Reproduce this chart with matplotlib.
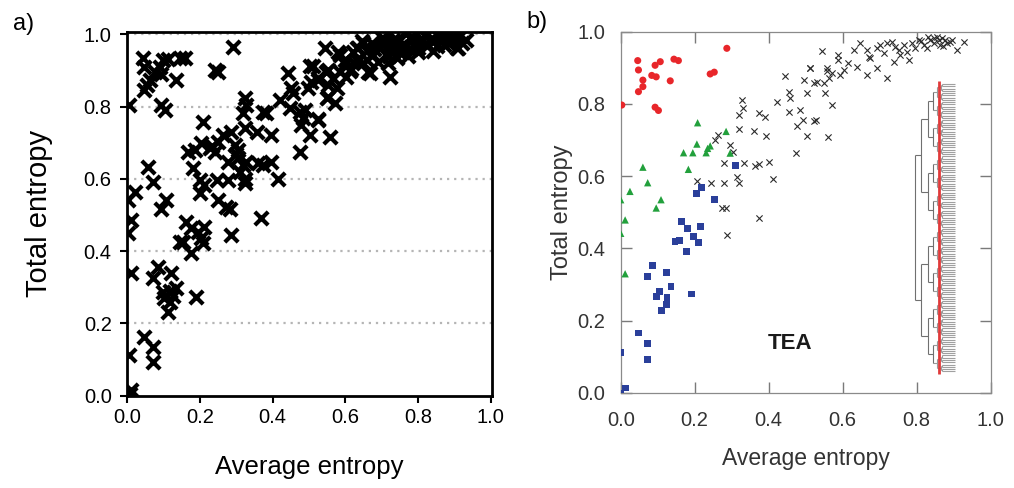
import numpy as np
import matplotlib
matplotlib.use("Agg")
import matplotlib.pyplot as plt

plt.rcParams['font.family'] = ['Liberation Sans', 'DejaVu Sans']

# ---------------- Panel a data ----------------
a_x = [0.044, 0.048, 0.062, 0.048, 0.076, 0.090, 0.094, 0.099, 0.113, 0.145, 0.159, 0.136, 0.055, 0.291, 0.241,
       0.250, 0.094, 0.104, 0.005, 0.209,
       0.168, 0.186, 0.204, 0.227, 0.241, 0.250, 0.264, 0.287, 0.324, 0.296, 0.305, 0.278, 0.305, 0.319, 0.328,
       0.310, 0.324, 0.324, 0.356, 0.383, 0.374, 0.397, 0.324, 0.328, 0.319, 0.360, 0.374, 0.397, 0.415, 0.181,
       0.200, 0.213, 0.200, 0.246, 0.278, 0.250, 0.273, 0.282, 0.287, 0.369, 0.234, 0.300,
       0.420, 0.443, 0.452, 0.457, 0.447, 0.475, 0.484, 0.479, 0.502, 0.525, 0.557, 0.475, 0.502, 0.507, 0.498,
       0.525, 0.543, 0.548, 0.553, 0.571, 0.576, 0.580, 0.585, 0.603, 0.617, 0.621, 0.635, 0.649, 0.663, 0.676,
       0.690, 0.704, 0.713, 0.722, 0.741, 0.759, 0.773, 0.786, 0.805, 0.823, 0.841, 0.860, 0.883, 0.910, 0.933,
       0.897, 0.777, 0.731, 0.695,
       0.512, 0.526, 0.553, 0.553, 0.567, 0.549, 0.585, 0.599, 0.613, 0.631, 0.645, 0.636, 0.659, 0.672, 0.668,
       0.709, 0.718, 0.727, 0.741, 0.750, 0.764, 0.787, 0.800, 0.814, 0.828, 0.837, 0.851, 0.869, 0.896, 0.906,
       0.915, 0.526, 0.489, 0.768, 0.860, 0.820, 0.700, 0.660, 0.620, 0.750, 0.800, 0.870, 0.840, 0.780, 0.880,
       0.920, 0.720, 0.680, 0.650, 0.600,
       0.021, 0.003, 0.011, 0.003, 0.058, 0.071, 0.108, 0.094, 0.163, 0.177, 0.195, 0.213, 0.204, 0.209, 0.145,
       0.154, 0.177, 0.012, 0.085, 0.071, 0.122, 0.136, 0.099, 0.117, 0.103, 0.117, 0.113, 0.126, 0.191, 0.048,
       0.071, 0.071, 0.005, 0.012, 0.007]
a_y = [0.934, 0.910, 0.873, 0.846, 0.895, 0.910, 0.890, 0.929, 0.933, 0.935, 0.934, 0.874, 0.860, 0.966, 0.901,
       0.897, 0.804, 0.790, 0.804, 0.758,
       0.675, 0.680, 0.698, 0.685, 0.675, 0.703, 0.721, 0.731, 0.740, 0.694, 0.680, 0.648, 0.657, 0.638, 0.648,
       0.620, 0.601, 0.588, 0.731, 0.781, 0.785, 0.721, 0.823, 0.804, 0.781, 0.643, 0.638, 0.648, 0.601, 0.629,
       0.597, 0.583, 0.560, 0.597, 0.597, 0.541, 0.523, 0.518, 0.445, 0.491, 0.690, 0.668,
       0.818, 0.892, 0.851, 0.837, 0.795, 0.786, 0.768, 0.749, 0.721, 0.763, 0.717, 0.675, 0.911, 0.869, 0.851,
       0.874, 0.961, 0.897, 0.827, 0.809, 0.851, 0.952, 0.897, 0.883, 0.905, 0.923, 0.961, 0.975, 0.897, 0.943,
       0.923, 0.970, 0.943, 0.883, 0.934, 0.952, 0.940, 0.970, 0.984, 0.970, 0.980, 0.989, 0.975, 0.961, 0.984,
       0.994, 0.989, 0.984, 0.961,
       0.911, 0.879, 0.900, 0.860, 0.879, 0.825, 0.944, 0.917, 0.898, 0.962, 0.981, 0.925, 0.953, 0.976, 0.894,
       0.985, 0.920, 0.958, 0.985, 0.948, 0.971, 0.990, 0.962, 0.985, 0.971, 0.990, 0.967, 0.985, 0.990, 0.962,
       0.994, 0.767, 0.790, 1.000, 1.000, 0.995, 0.990, 0.930, 0.950, 0.965, 0.950, 0.970, 0.955, 0.960, 0.995,
       0.975, 0.940, 0.960, 0.920, 0.930,
       0.565, 0.541, 0.486, 0.449, 0.634, 0.592, 0.541, 0.518, 0.482, 0.463, 0.454, 0.468, 0.435, 0.422, 0.426,
       0.426, 0.394, 0.339, 0.357, 0.325, 0.339, 0.297, 0.288, 0.290, 0.269, 0.260, 0.232, 0.275, 0.274, 0.163,
       0.136, 0.094, 0.113, 0.016, 0.006]

# ---------------- Panel b data ----------------
red_x = [0.003, 0.046, 0.048, 0.060, 0.060, 0.048, 0.084, 0.093, 0.107, 0.096, 0.134, 0.144, 0.156, 0.093, 0.102,
         0.242, 0.253, 0.287]
red_y = [0.797, 0.920, 0.894, 0.866, 0.848, 0.834, 0.879, 0.907, 0.917, 0.875, 0.864, 0.924, 0.920, 0.791, 0.782,
         0.883, 0.888, 0.954]

green_x = [0.208, 0.285, 0.170, 0.195, 0.206, 0.231, 0.235, 0.242, 0.296, 0.183, 0.060, 0.073, 0.025, 0.000, 0.109,
           0.096, 0.012, 0.000, 0.012]
green_y = [0.748, 0.724, 0.665, 0.665, 0.689, 0.665, 0.677, 0.684, 0.664, 0.619, 0.625, 0.582, 0.558, 0.535, 0.535,
           0.512, 0.479, 0.442, 0.330]

blue_x = [0.311, 0.206, 0.218, 0.254, 0.165, 0.181, 0.215, 0.147, 0.159, 0.197, 0.210, 0.179, 0.086, 0.073, 0.123,
          0.136, 0.105, 0.097, 0.125, 0.123, 0.111, 0.192, 0.048, 0.073, 0.073, 0.000, 0.012, 0.000]
blue_y = [0.630, 0.553, 0.569, 0.535, 0.475, 0.456, 0.461, 0.419, 0.421, 0.433, 0.417, 0.392, 0.353, 0.323, 0.334,
          0.295, 0.281, 0.267, 0.265, 0.244, 0.228, 0.274, 0.166, 0.136, 0.092, 0.111, 0.014, 0.000]

black_x = [0.328, 0.330, 0.321, 0.375, 0.391, 0.321, 0.361, 0.394, 0.264, 0.255, 0.296, 0.305, 0.278, 0.334, 0.363,
           0.373, 0.400, 0.413, 0.206, 0.244, 0.280, 0.314, 0.319, 0.273, 0.285, 0.373, 0.287, 0.422, 0.475, 0.445,
           0.454, 0.458, 0.454, 0.486, 0.493, 0.477, 0.504, 0.529, 0.496, 0.511, 0.505, 0.524,
           0.544, 0.587, 0.587, 0.648, 0.630, 0.666, 0.671, 0.675, 0.693, 0.702, 0.711, 0.720, 0.734, 0.743, 0.752,
           0.756, 0.765, 0.774, 0.779, 0.738, 0.693, 0.720, 0.666, 0.639, 0.616, 0.603, 0.594, 0.571, 0.562, 0.558,
           0.549, 0.531, 0.513, 0.558, 0.553, 0.571, 0.522, 0.560, 0.806, 0.819, 0.837, 0.846, 0.860, 0.869, 0.883,
           0.896, 0.910, 0.928, 0.828, 0.788, 0.797, 0.855, 0.864, 0.846, 0.878, 0.812, 0.830, 0.872, 0.890]
black_y = [0.811, 0.788, 0.770, 0.774, 0.765, 0.730, 0.724, 0.710, 0.714, 0.700, 0.687, 0.668, 0.636, 0.636, 0.629,
           0.634, 0.638, 0.592, 0.588, 0.582, 0.582, 0.599, 0.581, 0.513, 0.512, 0.484, 0.438, 0.806, 0.665, 0.877,
           0.834, 0.816, 0.779, 0.782, 0.756, 0.739, 0.711, 0.756, 0.865, 0.900, 0.829, 0.859,
           0.947, 0.935, 0.922, 0.968, 0.949, 0.949, 0.931, 0.926, 0.954, 0.963, 0.940, 0.968, 0.972, 0.958, 0.949,
           0.935, 0.963, 0.945, 0.922, 0.917, 0.899, 0.871, 0.880, 0.903, 0.912, 0.894, 0.880, 0.885, 0.871, 0.899,
           0.857, 0.862, 0.899, 0.891, 0.830, 0.797, 0.753, 0.708, 0.977, 0.963, 0.977, 0.968, 0.977, 0.982, 0.968,
           0.977, 0.949, 0.972, 0.954, 0.968, 0.954, 0.986, 0.963, 0.982, 0.977, 0.975, 0.985, 0.960, 0.972]

# dendrogram: balanced tree depth, merge distances per level (leaf level first)
dendro_depth = 7
dendro_leaf_dist = 0.905
dendro_merge_dist = [0.870, 0.865, 0.856, 0.845, 0.830, 0.812, 0.797]
dendro_span = (0.06, 0.855)
cut_dist = 0.862

ticks = [0.0, 0.2, 0.4, 0.6, 0.8, 1.0]
tick_labels = ['0.0', '0.2', '0.4', '0.6', '0.8', '1.0']

W, H = 1014, 488
fig = plt.figure(figsize=(W / 100, H / 100), dpi=100)

# ---------------- Panel a ----------------
axa = fig.add_axes([127 / W, 1 - 395.7 / H, (492.3 - 127) / W, (395.7 - 31.5) / H])
axa.set_xlim(0, 1.004)
axa.set_ylim(0, 1.0078)
for g in ticks[1:]:
    axa.axhline(g, color='#b5b5b5', lw=1.6, ls=(0, (1, 2.2)), zorder=1)
axa.scatter(a_x, a_y, marker='x', s=92, linewidths=3.0, color='black', zorder=3)
for s in axa.spines.values():
    s.set_linewidth(2.0)
axa.set_xticks(ticks)
axa.set_xticklabels(tick_labels)
axa.set_yticks(ticks)
axa.set_yticklabels(tick_labels)
axa.tick_params(axis='x', direction='out', length=5, width=1.5, labelsize=14.5, pad=4)
axa.tick_params(axis='y', direction='out', length=5, width=1.5, labelsize=14.5, pad=6)
axa.set_xlabel('Average entropy', fontsize=18.5, labelpad=20)
axa.set_ylabel('Total entropy', fontsize=21, labelpad=22)
fig.text(13 / W, 1 - 24 / H, 'a)', fontsize=17, va='center', ha='left')

# ---------------- Panel b ----------------
axb = fig.add_axes([620.7 / W, 1 - 393 / H, (990.5 - 620.7) / W, (393 - 31.7) / H])
axb.set_xlim(0, 1.0)
axb.set_ylim(0, 1.0)
axb.scatter(black_x, black_y, marker='x', s=20, linewidths=0.8, color='#2a2a2a', zorder=3)
axb.scatter(red_x, red_y, marker='o', s=26, color='#e8262a', edgecolors='none', zorder=4)
axb.scatter(green_x, green_y, marker='^', s=28, color='#22a03c', edgecolors='none', zorder=4)
axb.scatter(blue_x, blue_y, marker='s', s=24, color='#2a3f9a', edgecolors='none', zorder=4)

# dendrogram
n_leaves = 2 ** dendro_depth
leaf_y = np.linspace(dendro_span[0], dendro_span[1], n_leaves)
axb.hlines(leaf_y, dendro_merge_dist[0], dendro_leaf_dist, color='#a0a0a0', lw=0.8, zorder=2)
level_y = leaf_y
for lvl in range(dendro_depth):
    xm = dendro_merge_dist[lvl]
    y0 = level_y[0::2]
    y1 = level_y[1::2]
    col = '#9a9a9a' if lvl < 3 else '#707070'
    axb.vlines(np.full(len(y0), xm), y0, y1, color=col, lw=0.8, zorder=2)
    mids = (y0 + y1) / 2
    if lvl + 1 < dendro_depth:
        axb.hlines(mids, dendro_merge_dist[lvl + 1], xm, color=col, lw=0.8, zorder=2)
    level_y = mids
axb.vlines(cut_dist, dendro_span[0] - 0.008, dendro_span[1] + 0.008, color='#e03a3a', lw=2.0, zorder=5)

axb.text(0.458, 0.138, 'TEA', fontsize=16, fontweight='bold', ha='center', va='center', color='#1a1a1a')

for s in axb.spines.values():
    s.set_linewidth(0.9)
    s.set_color('#8a8a8a')
axb.set_xticks(ticks)
axb.set_xticklabels(tick_labels)
axb.set_yticks(ticks)
axb.set_yticklabels(tick_labels)
axb.tick_params(axis='x', direction='in', length=8, width=1.0, color='#7a7a7a', labelsize=14.5,
                labelcolor='#333333', top=True, pad=13)
axb.tick_params(axis='y', direction='in', length=8, width=1.0, color='#7a7a7a', labelsize=14.5,
                labelcolor='#333333', right=True, pad=11)
axb.set_xlabel('Average entropy', fontsize=16.5, labelpad=12, color='#333333')
axb.set_ylabel('Total entropy', fontsize=17, labelpad=3, color='#333333')
fig.text(526 / W, 1 - 22 / H, 'b)', fontsize=17, va='center', ha='left')

fig.savefig('out.png', dpi=100)
